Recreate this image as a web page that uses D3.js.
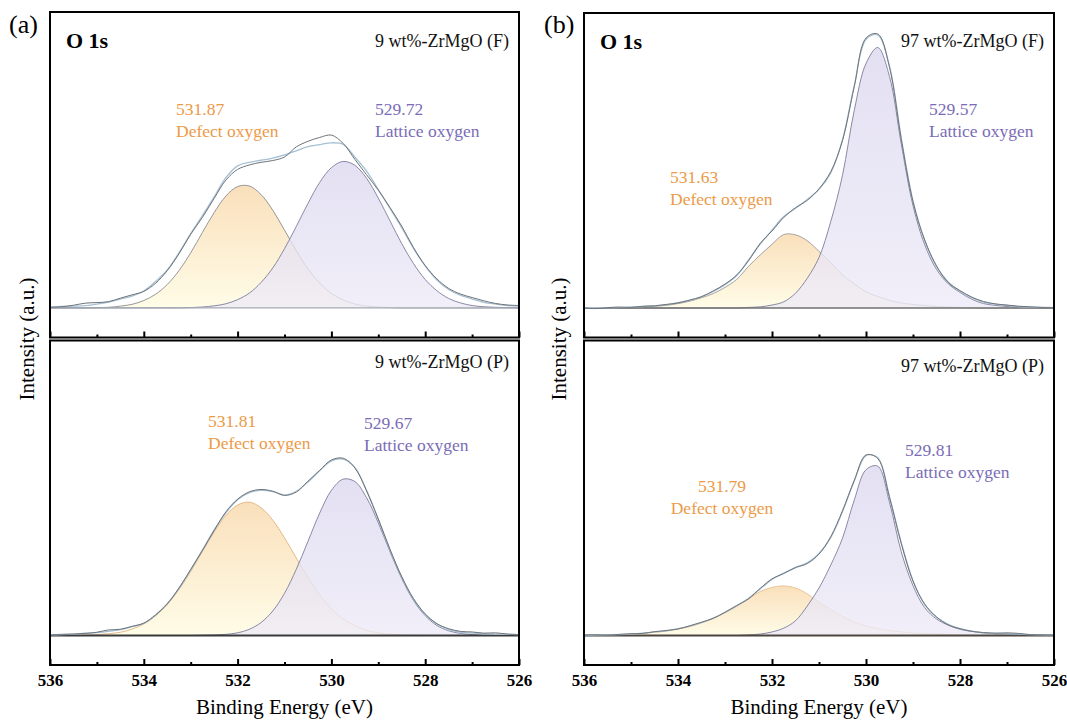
<!DOCTYPE html>
<html>
<head>
<meta charset="utf-8">
<script src="https://cdn.jsdelivr.net/npm/d3@7"></script>
<style>
  body { margin: 0; background: #fff; }
  text { font-family: "Liberation Serif", "Times New Roman", serif; }
</style>
</head>
<body>
<svg id="chart" width="1067" height="722"></svg>
<script>
// binding energy grid (eV)
const energy = [536, 535.75, 535.5, 535.25, 535, 534.75, 534.5, 534.25, 534, 533.75, 533.5, 533.25, 533, 532.75, 532.5, 532.25, 532, 531.75, 531.5, 531.25, 531, 530.75, 530.5, 530.25, 530, 529.75, 529.5, 529.25, 529, 528.75, 528.5, 528.25, 528, 527.75, 527.5, 527.25, 527, 526.75, 526.5, 526.25, 526]
const xMajor = [536, 534, 532, 530, 528, 526]
const xMinor = [535, 533, 531, 529, 527]

// 9 wt%-ZrMgO (F)
const a1Raw = [0.2, 0.4, 0.9, 1.6, 1.8, 2.1, 3.3, 4.4, 5.6, 8.3, 12.6, 18.3, 24.9, 30.6, 37.0, 43.2, 46.8, 48.3, 49.2, 49.8, 51.0, 54.4, 56.3, 57.6, 58.4, 55.6, 50.2, 45.0, 39.8, 33.9, 27.6, 20.4, 14.3, 9.8, 6.6, 4.7, 3.5, 2.4, 1.5, 1.0, 0.8]
const a1Fit = [0.3, 0.5, 0.6, 0.8, 1.3, 2.0, 3.0, 4.0, 5.7, 8.9, 12.8, 18.6, 25.1, 31.2, 37.5, 44.0, 48.0, 49.2, 49.9, 50.6, 51.7, 53.1, 54.5, 55.2, 55.8, 55.3, 51.0, 46.2, 40.0, 33.6, 27.1, 20.1, 14.2, 9.4, 6.2, 4.3, 3.0, 1.9, 1.3, 0.8, 0.6]
const a1Defect = [0, 0, 0, 0, 0.1, 0.2, 0.6, 1.2, 2.5, 4.6, 7.9, 12.6, 18.6, 25.5, 32.2, 37.8, 41.0, 41.2, 38.3, 33.0, 26.3, 19.4, 13.2, 8.4, 4.9, 2.7, 1.3, 0.6, 0.3, 0.1, 0, 0, 0, 0, 0, 0, 0, 0, 0, 0, 0]
const a1Lattice = [0, 0, 0, 0, 0, 0, 0, 0, 0, 0, 0, 0, 0.1, 0.3, 0.7, 1.4, 2.8, 5.0, 8.6, 13.5, 20.0, 27.5, 35.3, 42.4, 47.4, 49.5, 48.2, 43.8, 37.1, 29.4, 21.7, 15.0, 9.6, 5.8, 3.2, 1.7, 0.8, 0.4, 0.2, 0.1, 0]

// 9 wt%-ZrMgO (P)
const a2Raw = [0.2, 0.4, 0.5, 0.7, 1.1, 1.9, 2.1, 3.1, 4.2, 7.0, 10.7, 16.1, 22.4, 28.8, 35.6, 41.9, 46.2, 48.7, 49.5, 48.9, 47.5, 48.6, 52.3, 56.0, 59.5, 60.1, 56.8, 49.0, 39.5, 29.2, 19.9, 12.5, 7.3, 4.0, 2.3, 1.4, 1.2, 0.8, 0.9, 0.5, 0.3]
const a2Fit = [0.2, 0.3, 0.5, 0.8, 1.0, 1.4, 2.0, 3.0, 4.1, 6.9, 10.8, 15.9, 22.2, 29.0, 35.8, 41.6, 46.0, 48.4, 49.2, 48.8, 47.6, 48.9, 52.0, 55.8, 59.2, 59.8, 57.0, 49.2, 39.3, 29.0, 19.8, 12.3, 7.1, 3.9, 2.1, 1.1, 0.8, 0.6, 0.5, 0.4, 0.3]
const a2Defect = [0, 0, 0, 0.1, 0.3, 0.6, 1.1, 2.2, 3.9, 6.6, 10.5, 15.6, 21.7, 28.5, 35.1, 40.7, 44.2, 45.2, 43.3, 39.1, 33.1, 26.3, 19.7, 13.8, 9.1, 5.6, 3.3, 1.8, 0.9, 0.4, 0.2, 0.1, 0, 0, 0, 0, 0, 0, 0, 0, 0]
const a2Lattice = [0, 0, 0, 0, 0, 0, 0, 0, 0, 0, 0, 0, 0, 0.1, 0.2, 0.4, 0.9, 2.1, 4.4, 8.3, 14.3, 22.4, 31.9, 41.5, 49.2, 53.0, 52.2, 46.7, 38.2, 28.4, 19.3, 11.9, 6.7, 3.4, 1.6, 0.7, 0.3, 0.1, 0, 0, 0]

// 97 wt%-ZrMgO (F)
const b1Raw = [0.0, -0.2, 0.1, 0.3, 0.2, 0.6, 0.7, 1.2, 1.7, 2.7, 3.8, 5.8, 8.1, 11.2, 16.0, 21.9, 26.1, 30.7, 34.0, 36.5, 40.4, 46.2, 56.8, 75.0, 91.5, 92.9, 81.6, 57.2, 36.0, 23.0, 14.3, 8.6, 5.9, 3.7, 2.2, 1.4, 1.0, 0.6, 0.4, 0.2, 0.1]
const b1Fit = [0.1, 0.1, 0.1, 0.2, 0.3, 0.5, 0.8, 1.1, 1.8, 2.6, 3.9, 5.6, 7.9, 11.0, 16.3, 21.7, 26.4, 31.0, 33.8, 36.8, 40.2, 45.8, 57.0, 75.4, 91.1, 92.6, 82.0, 57.6, 36.3, 22.8, 14.0, 8.8, 5.7, 3.5, 2.0, 1.3, 0.9, 0.5, 0.3, 0.2, 0.2]
const b1Defect = [0, 0, 0, 0, 0.2, 0.3, 0.6, 0.9, 1.5, 2.3, 3.5, 4.9, 7.0, 9.7, 14.1, 18.0, 21.6, 24.9, 24.8, 22.8, 19.2, 15.4, 11.2, 8.2, 5.5, 3.9, 2.6, 1.7, 1.2, 0.8, 0.5, 0.3, 0.2, 0.1, 0, 0, 0, 0, 0, 0, 0]
const b1Lattice = [0, 0, 0, 0, 0, 0, 0, 0, 0, 0, 0, 0, 0, 0, 0.2, 0.4, 1.0, 2.1, 5.0, 10.1, 17.1, 29.3, 45.0, 67.0, 82.9, 88.3, 78.5, 55.7, 34.7, 21.4, 13.1, 8.2, 5.3, 3.0, 1.5, 0.9, 0.5, 0.3, 0.2, 0.1, 0.1]

// 97 wt%-ZrMgO (P)
const b2Raw = [0.1, 0.2, 0.1, 0.4, 0.6, 0.7, 1.3, 1.7, 2.2, 3.3, 4.5, 5.8, 7.9, 10.2, 12.4, 16.0, 19.2, 21.0, 23.1, 24.4, 27.6, 33.5, 42.3, 52.6, 61.2, 60.0, 46.8, 31.2, 18.4, 10.6, 6.3, 3.6, 2.3, 1.4, 1.0, 0.8, 0.9, 0.7, 0.3, 0.2, 0.1]
const b2Fit = [0.0, 0.1, 0.2, 0.3, 0.5, 0.8, 1.2, 1.6, 2.3, 3.2, 4.4, 5.9, 7.8, 10.0, 12.6, 15.8, 19.0, 21.2, 22.9, 24.6, 27.8, 33.2, 42.0, 52.3, 61.0, 60.3, 47.1, 31.5, 18.6, 10.5, 6.2, 3.8, 2.3, 1.5, 0.9, 0.7, 0.6, 0.5, 0.3, 0.2, 0.1]
const b2Defect = [0, 0, 0, 0.2, 0.5, 0.7, 1.1, 1.5, 2.2, 3.0, 4.3, 5.8, 7.7, 9.9, 12.4, 14.9, 16.3, 16.8, 16.1, 14.1, 11.3, 8.8, 6.4, 4.6, 3.2, 2.3, 1.7, 1.2, 0.9, 0.6, 0.5, 0.3, 0.2, 0.1, 0, 0, 0, 0, 0, 0, 0]
const b2Lattice = [0, 0, 0, 0, 0, 0, 0, 0, 0, 0, 0, 0, 0, 0, 0.2, 0.5, 1.2, 2.5, 5.0, 10.0, 16.1, 23.9, 33.0, 45.9, 56.2, 57.4, 45.1, 28.4, 16.9, 9.4, 5.6, 3.5, 2.1, 1.4, 0.9, 0.6, 0.4, 0.3, 0.2, 0.1, 0.1]

const samples = ["9 wt%-ZrMgO (F)", "9 wt%-ZrMgO (P)", "97 wt%-ZrMgO (F)", "97 wt%-ZrMgO (P)"]
const defectBE = ["531.87", "531.81", "531.63", "531.79"]
const latticeBE = ["529.72", "529.67", "529.57", "529.81"]

const orange = "#EC9A48"
const purple = "#7A6CB6"

const svg = d3.select("#chart")
const defs = svg.append("defs")

const gDef = defs.append("linearGradient").attr("id", "gradDefect")
    .attr("x1", 0).attr("y1", 0).attr("x2", 0).attr("y2", 1)
gDef.append("stop").attr("offset", "0%").attr("stop-color", "#F9DCB4")
gDef.append("stop").attr("offset", "100%").attr("stop-color", "#FFFCE5")

const gLat = defs.append("linearGradient").attr("id", "gradLattice")
    .attr("x1", 0).attr("y1", 0).attr("x2", 0).attr("y2", 1)
gLat.append("stop").attr("offset", "0%").attr("stop-color", "#DCD7EF")
gLat.append("stop").attr("offset", "100%").attr("stop-color", "#EDEAF7")

const panels = [
    { left: 50, right: 519, tag: "(a)", tagX: 9, yLabelX: 34 },
    { left: 584, right: 1054, tag: "(b)", tagX: 544, yLabelX: 566 }
]

const subplots = [
    { p: 0, top: 12, bottom: 337.5, raw: a1Raw, fit: a1Fit, defect: a1Defect, lattice: a1Lattice, upper: true,
      defStroke: "#8c8c8c", base: "#a3abb3", baseW: 1.3,
      dx: 176, dy: 115, dAnchor: "start", lx: 375, ly: 115, sy: 47 },
    { p: 0, top: 340.5, bottom: 665, raw: a2Raw, fit: a2Fit, defect: a2Defect, lattice: a2Lattice, upper: false,
      defStroke: "#E2B37C", base: "#3a3a3a", baseW: 1.8,
      dx: 208, dy: 427, dAnchor: "start", lx: 364, ly: 429, sy: 368 },
    { p: 1, top: 13, bottom: 337.5, raw: b1Raw, fit: b1Fit, defect: b1Defect, lattice: b1Lattice, upper: true,
      defStroke: "#9a9a9a", base: "#707070", baseW: 1.5,
      dx: 670, dy: 183, dAnchor: "start", lx: 929, ly: 115, sy: 47 },
    { p: 1, top: 340.5, bottom: 665, raw: b2Raw, fit: b2Fit, defect: b2Defect, lattice: b2Lattice, upper: false,
      defStroke: "#E6BE8E", base: "#4d463f", baseW: 1.8,
      dx: 722, dy: 492, dAnchor: "middle", lx: 905, ly: 456, sy: 372 }
]

subplots.forEach((s, k) => {
    const pn = panels[s.p]
    const x = d3.scaleLinear().domain([536, 526]).range([pn.left, pn.right])
    const y = d3.scaleLinear().domain([-10, 100]).range([s.bottom, s.top])

    const pts = arr => energy.map((e, i) => ({ e: e, v: arr[i] }))
    const curve = d3.curveCatmullRom.alpha(0.5)
    const area = d3.area().x(d => x(d.e)).y0(y(0)).y1(d => y(d.v)).curve(curve)
    const line = d3.line().x(d => x(d.e)).y(d => y(d.v)).curve(curve)

    defs.append("clipPath").attr("id", "clip" + k)
        .append("rect")
        .attr("x", pn.left).attr("y", s.top)
        .attr("width", pn.right - pn.left).attr("height", s.bottom - s.top)

    const g = svg.append("g").attr("clip-path", `url(#clip${k})`)

    // defect oxygen component
    g.append("path").attr("d", area(pts(s.defect)))
        .attr("fill", "url(#gradDefect)").attr("fill-opacity", 0.9)
    g.append("path").attr("d", line(pts(s.defect)))
        .attr("fill", "none").attr("stroke", s.defStroke).attr("stroke-width", 0.9)

    // lattice oxygen component
    g.append("path").attr("d", area(pts(s.lattice)))
        .attr("fill", "url(#gradLattice)").attr("fill-opacity", 0.78)
    g.append("path").attr("d", line(pts(s.lattice)))
        .attr("fill", "none").attr("stroke", "#7d7d9c").attr("stroke-width", 0.9)

    // baseline
    g.append("line")
        .attr("x1", pn.left).attr("x2", pn.right)
        .attr("y1", y(0)).attr("y2", y(0))
        .attr("stroke", s.base).attr("stroke-width", s.baseW)

    // envelope and raw spectrum
    g.append("path").attr("d", line(pts(s.fit)))
        .attr("fill", "none").attr("stroke", "#a6c0d4").attr("stroke-width", 1.3)
    g.append("path").attr("d", line(pts(s.raw)))
        .attr("fill", "none").attr("stroke", "#6e7378").attr("stroke-width", 1)

    // ticks
    const major = svg.append("g").attr("transform", `translate(0,${s.bottom})`)
        .call(d3.axisBottom(x).tickValues(xMajor).tickSize(-6).tickPadding(9)
            .tickFormat(s.upper ? "" : d3.format("d")))
    const minor = svg.append("g").attr("transform", `translate(0,${s.bottom})`)
        .call(d3.axisBottom(x).tickValues(xMinor).tickSize(-3).tickFormat(""))
    ;[major, minor].forEach(a => {
        a.select(".domain").remove()
        a.selectAll(".tick line").attr("stroke", "#000").attr("stroke-width", 2)
    })
    major.selectAll(".tick text")
        .attr("fill", "#000").attr("font-size", 17).attr("font-weight", "bold")
        .style("font-family", '"Liberation Serif", "Times New Roman", serif')

    // frame
    svg.append("rect")
        .attr("x", pn.left).attr("y", s.top)
        .attr("width", pn.right - pn.left).attr("height", s.bottom - s.top)
        .attr("fill", "none").attr("stroke", "#000").attr("stroke-width", 2)

    // annotations
    svg.append("text").attr("x", pn.right - 10).attr("y", s.sy)
        .attr("text-anchor", "end").attr("font-size", 18).attr("fill", "#111")
        .text(samples[k])

    const dt = svg.append("text").attr("fill", orange).attr("font-size", 17.5)
        .attr("text-anchor", s.dAnchor)
    dt.append("tspan").attr("x", s.dx).attr("y", s.dy).text(defectBE[k])
    dt.append("tspan").attr("x", s.dx).attr("y", s.dy + 22).text("Defect oxygen")

    const lt = svg.append("text").attr("fill", purple).attr("font-size", 17.5)
    lt.append("tspan").attr("x", s.lx).attr("y", s.ly).text(latticeBE[k])
    lt.append("tspan").attr("x", s.lx).attr("y", s.ly + 22).text("Lattice oxygen")

    if (s.upper) {
        svg.append("text").attr("x", pn.left + 16).attr("y", s.top + 36)
            .attr("font-size", 22).attr("font-weight", "bold").attr("fill", "#000")
            .text("O 1s")
    }
})

panels.forEach(pn => {
    svg.append("text").attr("x", pn.tagX).attr("y", 33)
        .attr("font-size", 26).attr("fill", "#000").text(pn.tag)

    svg.append("text")
        .attr("transform", `translate(${pn.yLabelX},339) rotate(-90)`)
        .attr("text-anchor", "middle").attr("font-size", 21).attr("fill", "#000")
        .text("Intensity (a.u.)")

    svg.append("text")
        .attr("x", (pn.left + pn.right) / 2).attr("y", 714)
        .attr("text-anchor", "middle").attr("font-size", 21).attr("fill", "#000")
        .text("Binding Energy (eV)")
})
</script>
</body>
</html>
